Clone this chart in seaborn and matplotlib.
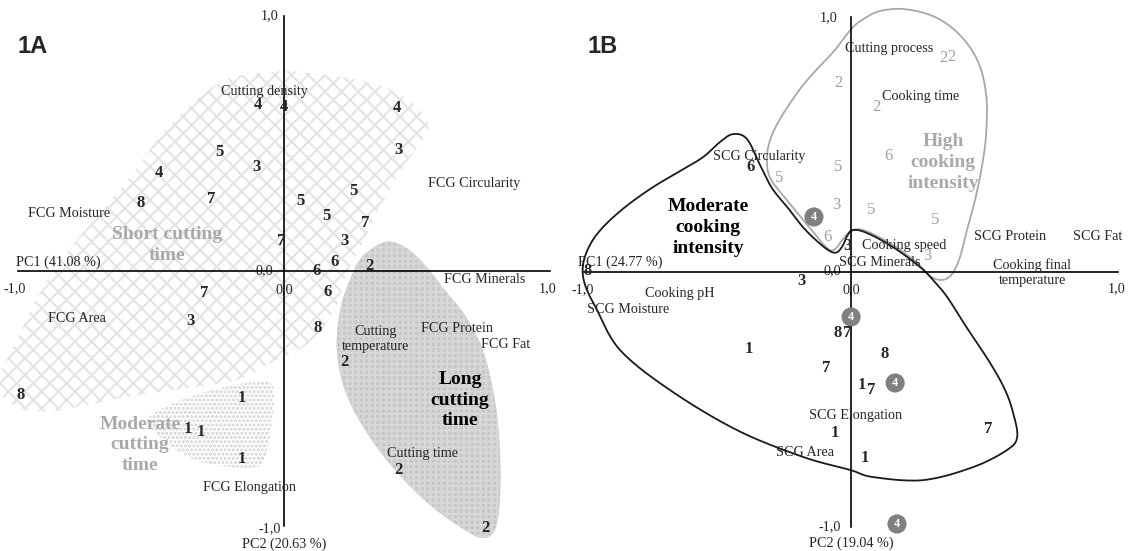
import numpy as np
import pandas as pd
import matplotlib
matplotlib.use("Agg")
import matplotlib.pyplot as plt
from matplotlib.patches import Polygon
import seaborn as sns

# ---------------- panel 1A ----------------
# observation scores (PC1, PC2) with their sample numbers
a_obs_x = [-0.098, 0.0, 0.425, 0.429, -0.241, -0.105, -0.47, -0.538, -0.274, 0.263,
           0.06, 0.158, 0.305, -0.011, 0.226, 0.192, 0.124, 0.32, -0.30, 0.162,
           -0.35, 0.128, 0.229, -0.989, -0.158, -0.361, -0.312, -0.158, 0.429, 0.759]
a_obs_y = [0.651, 0.643, 0.639, 0.475, 0.467, 0.408, 0.384, 0.267, 0.282, 0.314,
           0.275, 0.216, 0.188, 0.118, 0.118, 0.035, 0.0, 0.02, -0.086, -0.082,
           -0.196, -0.224, -0.357, -0.486, -0.498, -0.62, -0.631, -0.737, -0.78, -1.008]
a_obs_lab = ['4', '4', '4', '3', '5', '3', '4', '8', '7', '5',
             '5', '5', '7', '7', '3', '6', '6', '2', '7', '6',
             '3', '8', '2', '8', '1', '1', '1', '1', '2', '2']

# variable loadings
a_var_lab = ['Cutting density', 'FCG Circularity', 'FCG Moisture', 'FCG Minerals', 'FCG Area',
             'Cutting\ntemperature', 'FCG Protein', 'FCG Fat', 'Cutting time', 'FCG Elongation']
a_var_x = [-0.075, 0.714, -0.808, 0.756, -0.778, 0.346, 0.65, 0.835, 0.519, -0.128]
a_var_y = [0.706, 0.345, 0.224, -0.035, -0.188, -0.267, -0.224, -0.29, -0.714, -0.847]

# groups
a_grp_lab = ['Short cutting\ntime', 'Moderate\ncutting\ntime', 'Long\ncutting\ntime']
a_grp_x = [-0.44, -0.541, 0.662]
a_grp_y = [0.102, -0.682, -0.506]

short_x = [-0.88, -0.82, -0.69, -0.57, -0.44, -0.24, -0.05, 0.07, 0.32, 0.47, 0.54, 0.53, 0.45,
           0.36, 0.30, 0.24, 0.20, 0.14, 0.07, -0.05, -0.19, -0.57, -0.88, -1.03, -1.07, -1.00, -0.94]
short_y = [-0.02, 0.07, 0.23, 0.38, 0.56, 0.74, 0.78, 0.78, 0.74, 0.67, 0.59, 0.53, 0.41,
           0.25, 0.12, 0.0, -0.13, -0.23, -0.30, -0.36, -0.43, -0.49, -0.55, -0.52, -0.42, -0.26, -0.13]
long_x = [0.38, 0.455, 0.53, 0.605, 0.68, 0.748, 0.793, 0.812, 0.812, 0.793,
          0.748, 0.68, 0.549, 0.417, 0.305, 0.229, 0.199, 0.211, 0.248, 0.293]
long_y = [0.114, 0.094, 0.024, -0.075, -0.173, -0.31, -0.506, -0.702, -0.898, -1.016,
          -1.047, -1.016, -0.918, -0.78, -0.624, -0.467, -0.31, -0.153, -0.035, 0.055]
mod_x = [-0.515, -0.429, -0.297, -0.147, -0.06, -0.038, -0.045, -0.068, -0.109, -0.259, -0.372, -0.466]
mod_y = [-0.584, -0.525, -0.475, -0.439, -0.435, -0.475, -0.584, -0.722, -0.769, -0.761, -0.722, -0.651]

# ---------------- panel 1B ----------------
b_obs_x = [-0.375, -0.015, -0.985, -0.184, -0.052, -0.015, -0.382, 0.124, -0.094, 0.041,
           0.075, -0.06, 0.513, 0.052]
b_obs_y = [0.412, 0.102, 0.004, -0.035, -0.239, -0.239, -0.302, -0.322, -0.376, -0.443,
           -0.463, -0.631, -0.616, -0.729]
b_obs_lab = ['6', '3', '8', '3', '8', '7', '1', '8', '7', '1', '7', '1', '7', '1']

b_high_x = [0.345, 0.375, -0.049, 0.094, 0.139, -0.049, -0.27, -0.056, 0.075, 0.315, -0.09, 0.285]
b_high_y = [0.839, 0.843, 0.741, 0.647, 0.455, 0.412, 0.369, 0.263, 0.243, 0.204, 0.137, 0.063]
b_high_lab = ['2', '2', '2', '2', '6', '5', '5', '3', '5', '5', '6', '3']

b_circ_x = [-0.139, 0.0, 0.165, 0.172]
b_circ_y = [0.216, -0.176, -0.435, -0.988]
b_circ_lab = ['4', '4', '4', '4']

b_var_lab = ['Cutting process', 'Cooking time', 'SCG Circularity', 'Cooking speed', 'SCG Minerals',
             'SCG Protein', 'SCG Fat', 'Cooking final\ntemperature', 'Cooking pH', 'SCG Moisture',
             'SCG Elongation', 'SCG Area']
b_var_x = [0.142, 0.262, -0.345, 0.199, 0.109, 0.596, 0.925, 0.678, -0.64, -0.835, 0.015, -0.172]
b_var_y = [0.875, 0.69, 0.455, 0.106, 0.039, 0.141, 0.141, -0.004, -0.086, -0.145, -0.561, -0.706]

b_grp_lab = ['Moderate\ncooking\nintensity', 'High\ncooking\nintensity']
b_grp_x = [-0.536, 0.345]
b_grp_y = [0.176, 0.431]

modcook_x = [-1.004, -0.978, -0.929, -0.846, -0.742, -0.64, -0.554, -0.491, -0.442, -0.39,
             -0.341, -0.296, -0.236, -0.18, -0.124, -0.079, -0.052, -0.03, -0.015, 0.007,
             0.06, 0.157, 0.258, 0.307, 0.36, 0.427, 0.521, 0.577, 0.607, 0.622,
             0.584, 0.457, 0.27, 0.082, -0.004, -0.18, -0.427, -0.678, -0.865, -0.951, -0.996]
modcook_y = [0.027, 0.106, 0.176, 0.255, 0.333, 0.396, 0.451, 0.51, 0.541, 0.522,
             0.42, 0.329, 0.251, 0.176, 0.118, 0.082, 0.078, 0.106, 0.141, 0.165,
             0.153, 0.098, 0.02, -0.031, -0.098, -0.208, -0.357, -0.463, -0.553, -0.647,
             -0.698, -0.765, -0.816, -0.804, -0.776, -0.725, -0.62, -0.463, -0.306, -0.149, -0.051]
highcook_x = [0.004, -0.06, -0.124, -0.18, -0.228, -0.273, -0.303, -0.315, -0.303, -0.24,
              -0.154, -0.09, -0.06, -0.034, -0.004, 0.045, 0.157, 0.247, 0.296, 0.341,
              0.378, 0.408, 0.434, 0.464, 0.491, 0.506, 0.506, 0.476, 0.408, 0.315,
              0.202, 0.109, 0.052]
highcook_y = [0.957, 0.871, 0.8, 0.733, 0.663, 0.588, 0.518, 0.447, 0.369, 0.282,
              0.173, 0.094, 0.09, 0.125, 0.157, 0.165, 0.106, 0.035, -0.016, -0.031,
              -0.008, 0.059, 0.165, 0.282, 0.42, 0.545, 0.694, 0.824, 0.929, 1.0,
              1.031, 1.024, 0.996]


def smooth_closed(xs, ys, n=14):
    # closed Catmull-Rom curve through the outline vertices
    p = np.column_stack([xs, ys])
    m = len(p)
    t = np.linspace(0, 1, n, endpoint=False)[:, None]
    out = []
    for i in range(m):
        p0, p1, p2, p3 = p[i - 1], p[i], p[(i + 1) % m], p[(i + 2) % m]
        out.append(0.5 * (2 * p1 + (-p0 + p2) * t + (2 * p0 - 5 * p1 + 4 * p2 - p3) * t ** 2
                          + (-p0 + 3 * p1 - 3 * p2 + p3) * t ** 3))
    return np.vstack(out)


def cross_axes(ax):
    for s in ['top', 'right']:
        ax.spines[s].set_visible(False)
    for s in ['left', 'bottom']:
        ax.spines[s].set_position(('data', 0))
        ax.spines[s].set_bounds(-1, 1)
        ax.spines[s].set_color('black')
        ax.spines[s].set_linewidth(1.2)
        ax.spines[s].set_zorder(3)
    ax.set_xticks([])
    ax.set_yticks([])
    ax.set_xlabel('')
    ax.set_ylabel('')
    ax.patch.set_alpha(0)


sns.set_theme(style='white')
plt.rcParams['font.family'] = ['Liberation Serif', 'DejaVu Serif']
plt.rcParams['hatch.linewidth'] = 1.5

fig = plt.figure(figsize=(11.28, 5.51), dpi=100)
axa = fig.add_axes([0, 0, 0.5, 1])
axb = fig.add_axes([0.5, 0, 0.5, 1])

small = 10.2
num = 12
grp = 14

# ---- 1A ----
axa.set_xlim(-1.068, 1.053)
axa.set_ylim(-1.098, 1.063)
cross_axes(axa)

axa.add_patch(Polygon(smooth_closed(short_x, short_y), closed=True, facecolor='white',
                      edgecolor='#e4e4e4', hatch='xx', linewidth=0, zorder=1))
axa.add_patch(Polygon(smooth_closed(long_x, long_y), closed=True, facecolor='#c8c8c8',
                      edgecolor='#d8d8d8', hatch='+++', linewidth=0, zorder=1))
axa.add_patch(Polygon(smooth_closed(mod_x, mod_y), closed=True, facecolor='white',
                      edgecolor='#d2d2d2', hatch='....', linewidth=0, zorder=1))

for x, y, t in zip(a_obs_x, a_obs_y, a_obs_lab):
    axa.text(x, y, t, fontsize=num, fontweight='bold', ha='center', va='center', zorder=4)
for x, y, t in zip(a_var_x, a_var_y, a_var_lab):
    axa.text(x, y, t, fontsize=small, ha='center', va='center', linespacing=1.2, zorder=4)
grp_cols = ['#a9a9a9', '#a9a9a9', 'black']
for x, y, t, c in zip(a_grp_x, a_grp_y, a_grp_lab, grp_cols):
    axa.text(x, y, t, fontsize=grp, fontweight='bold', color=c, ha='center', va='center',
             linespacing=1.3, zorder=4)

axa.text(-0.02, 1.0, '1,0', fontsize=small, ha='right', va='center')
axa.text(-1.011, -0.07, '-1,0', fontsize=small, ha='center', va='center')
axa.text(0.992, -0.07, '1,0', fontsize=small, ha='center', va='center')
axa.text(-0.04, 0.0, '0,0', fontsize=small, ha='right', va='center')
axa.text(0.0, -0.075, '0,0', fontsize=small, ha='center', va='center')
axa.text(-0.01, -1.01, '-1,0', fontsize=small, ha='right', va='center')
axa.text(0.0, -1.07, 'PC2 (20.63 %)', fontsize=small, ha='center', va='center')
axa.text(-1.008, 0.035, 'PC1 (41.08 %)', fontsize=small, ha='left', va='center')

# ---- 1B ----
axb.set_xlim(-1.075, 1.037)
axb.set_ylim(-1.094, 1.067)
cross_axes(axb)

hc = smooth_closed(highcook_x, highcook_y)
axb.plot(np.append(hc[:, 0], hc[0, 0]), np.append(hc[:, 1], hc[0, 1]), color='#a8a8a8', lw=1.3, zorder=2)
mc = smooth_closed(modcook_x, modcook_y)
axb.plot(np.append(mc[:, 0], mc[0, 0]), np.append(mc[:, 1], mc[0, 1]), color='#1a1a1a', lw=1.3, zorder=2)

sns.scatterplot(x=b_circ_x, y=b_circ_y, s=190, color='#808080', edgecolor='none', ax=axb, zorder=4)
for x, y, t in zip(b_circ_x, b_circ_y, b_circ_lab):
    axb.text(x, y, t, fontsize=9, fontweight='bold', color='white', ha='center', va='center', zorder=5)
for x, y, t in zip(b_obs_x, b_obs_y, b_obs_lab):
    axb.text(x, y, t, fontsize=num, fontweight='bold', ha='center', va='center', zorder=4)
for x, y, t in zip(b_high_x, b_high_y, b_high_lab):
    axb.text(x, y, t, fontsize=num, color='#a0a0a0', ha='center', va='center', zorder=4)
for x, y, t in zip(b_var_x, b_var_y, b_var_lab):
    axb.text(x, y, t, fontsize=small, ha='center', va='center', linespacing=1.2, zorder=4)
for x, y, t, c in zip(b_grp_x, b_grp_y, b_grp_lab, ['black', '#a9a9a9']):
    axb.text(x, y, t, fontsize=grp, fontweight='bold', color=c, ha='center', va='center',
             linespacing=1.3, zorder=4)

axb.text(-0.049, 0.996, '1,0', fontsize=small, ha='right', va='center')
axb.text(-1.004, -0.071, '-1,0', fontsize=small, ha='center', va='center')
axb.text(0.993, -0.067, '1,0', fontsize=small, ha='center', va='center')
axb.text(-0.037, 0.004, '0,0', fontsize=small, ha='right', va='center')
axb.text(0.0, -0.07, '0,0', fontsize=small, ha='center', va='center')
axb.text(-0.037, -1.0, '-1,0', fontsize=small, ha='right', va='center')
axb.text(0.0, -1.063, 'PC2 (19.04 %)', fontsize=small, ha='center', va='center')
axb.text(-1.022, 0.039, 'PC1 (24.77 %)', fontsize=small, ha='left', va='center')

fig.text(0.0151, 0.915, '1A', fontsize=17, fontweight='bold', family='Liberation Sans', va='center')
fig.text(0.5204, 0.915, '1B', fontsize=17, fontweight='bold', family='Liberation Sans', va='center')

fig.savefig('out.png', dpi=100)
